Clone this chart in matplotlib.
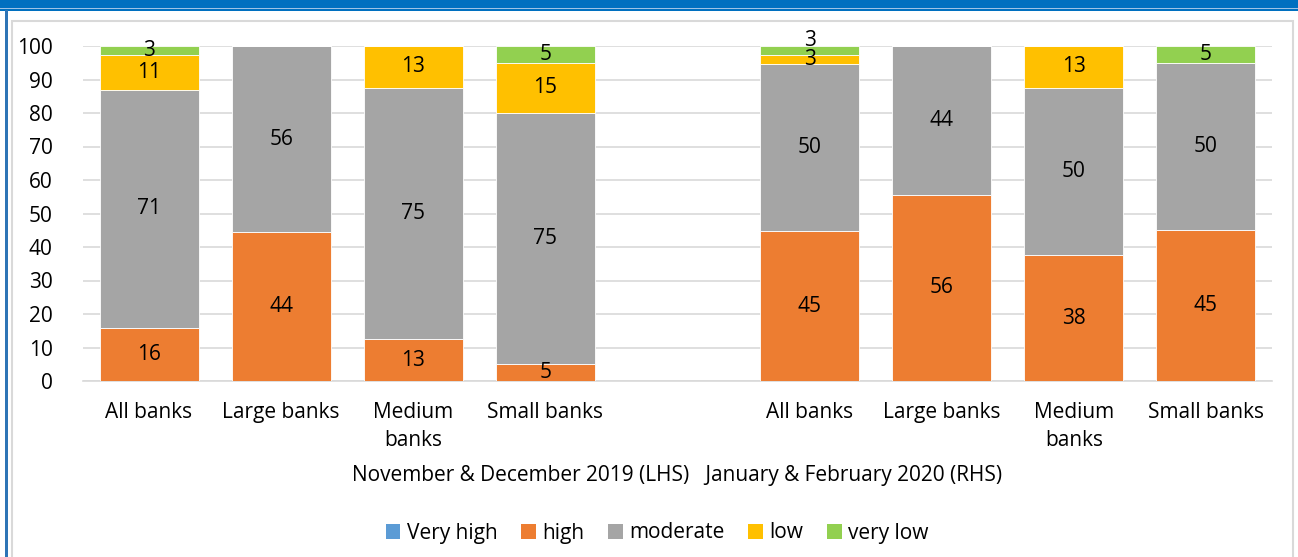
import matplotlib
matplotlib.use("Agg")
import matplotlib.pyplot as plt
from matplotlib.patches import Rectangle, Patch
import math

plt.rcParams['font.family'] = ['Open Sans', 'DejaVu Sans']
FS = 15

# Bank groups for the two survey rounds (blank slot separates them)
categories = ["All banks", "Large banks", "Medium\nbanks", "Small banks", "",
              "All banks", "Large banks", "Medium\nbanks", "Small banks"]
axis_title = "November & December 2019 (LHS)   January & February 2020 (RHS)"

series_names = ["Very high", "high", "moderate", "low", "very low"]
series_colors = ["#5B9BD5", "#ED7D31", "#A5A5A5", "#FFC000", "#92D050"]

very_high = [0, 0, 0, 0, 0, 0, 0, 0, 0]
high      = [15.8, 44.4, 12.5, 5.0, 0, 44.7, 55.6, 37.5, 45.0]
moderate  = [71.1, 55.6, 75.0, 75.0, 0, 50.0, 44.4, 50.0, 50.0]
low       = [10.5, 0, 12.5, 15.0, 0, 2.6, 0, 12.5, 0]
very_low  = [2.6, 0, 0, 5.0, 0, 2.6, 0, 0, 5.0]
series = [very_high, high, moderate, low, very_low]

yticks = list(range(0, 101, 10))

W, H = 1298, 557
fig = plt.figure(figsize=(W / 100, H / 100), dpi=100)

# Frame decoration: blue band on top, blue line on the left, grey chart border
def px_rect(x0, y0, x1, y1, **kw):
    fig.patches.append(Rectangle((x0 / W, 1 - y1 / H), (x1 - x0) / W, (y1 - y0) / H,
                                 transform=fig.transFigure, **kw))

px_rect(0, 0, W, 8, facecolor="#0070C0", edgecolor="none")
px_rect(0, 8, W, 9, facecolor="#9DC3E6", edgecolor="none")
px_rect(0, 9, W, 10.5, facecolor="#0070C0", edgecolor="none")
px_rect(5, 10, 7.5, H, facecolor="#2E75B6", edgecolor="none")
px_rect(12, 21, 1293, H + 5, facecolor="none", edgecolor="#D9D9D9", linewidth=1.5)

ax = fig.add_axes([83 / W, 176 / H, (1272 - 83) / W, (381 - 46) / H])
x = list(range(len(categories)))
bottoms = [0.0] * len(categories)
last_label_y = [None] * len(categories)
MIN_GAP = 5.7  # keep stacked value labels from sitting on top of each other
for name, vals, col in zip(series_names, series, series_colors):
    ax.bar(x, vals, bottom=bottoms, width=0.75, color=col, edgecolor="white",
           linewidth=0.6, label=name, zorder=3)
    for i, (xi, v, b) in enumerate(zip(x, vals, bottoms)):
        if v > 0:
            y = b + v / 2
            if last_label_y[i] is not None and y - last_label_y[i] < MIN_GAP:
                y = last_label_y[i] + MIN_GAP
            last_label_y[i] = y
            ax.text(xi, y, str(int(math.floor(v + 0.5))), ha="center", va="center",
                    fontsize=FS, color="black", zorder=4)
    bottoms = [b + v for b, v in zip(bottoms, vals)]

ax.set_xlim(-0.5, len(categories) - 0.5)
ax.set_ylim(0, 100)
ax.set_yticks(yticks)
ax.set_xticks(x)
ax.set_xticklabels(categories, fontsize=FS, linespacing=1.45)
ax.tick_params(axis="x", length=0, pad=15)
ax.tick_params(axis="y", length=0, pad=22, labelsize=FS)
for lbl in ax.get_xticklabels():
    lbl.set_verticalalignment("top")
ax.grid(axis="y", color="#D9D9D9", linewidth=1.2, zorder=0)
for s in ["left", "right", "top"]:
    ax.spines[s].set_visible(False)
ax.spines["bottom"].set_color("#D9D9D9")
ax.spines["bottom"].set_linewidth(1.2)

fig.text(677 / W, 1 - 476 / H, axis_title, ha="center", va="center", fontsize=FS)

handles = [Patch(facecolor=c, edgecolor="none") for c in series_colors]
fig.legend(handles, series_names, loc="center", bbox_to_anchor=(657 / W, 1 - 533 / H),
           ncol=5, frameon=False, fontsize=FS, handlelength=0.7, handleheight=0.7,
           handletextpad=0.3, columnspacing=1.15)

fig.savefig("out.png", dpi=100)
